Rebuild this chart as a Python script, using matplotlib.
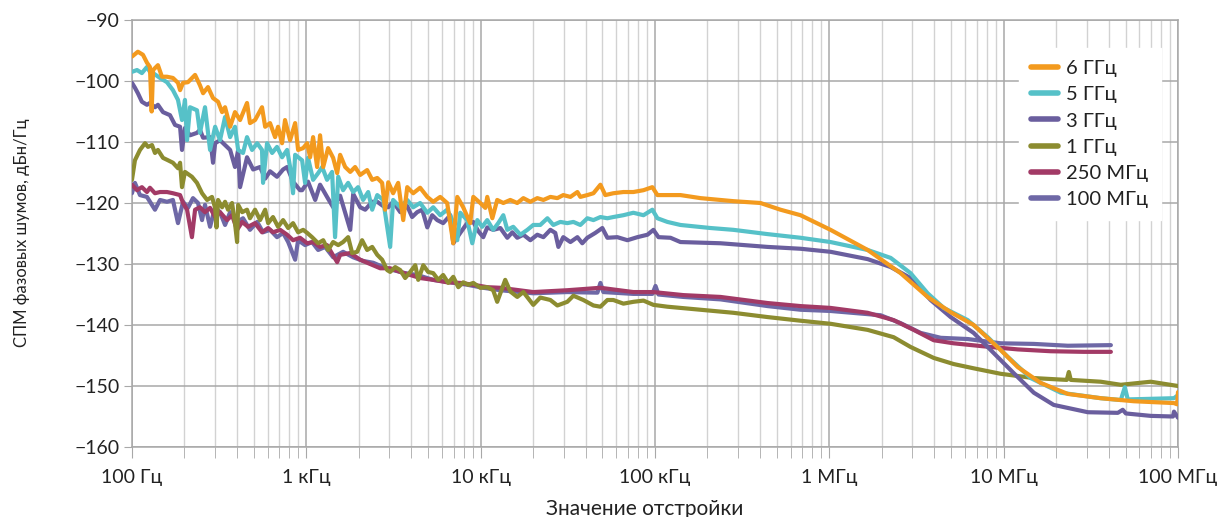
import numpy as np
import matplotlib.pyplot as plt
from matplotlib.ticker import LogLocator, FixedLocator, NullFormatter

plt.rcParams['font.family'] = ['Lato', 'DejaVu Sans']

# offset frequency as log10(Hz), phase noise in dBc/Hz
lgf_6g = [2.000, 2.034, 2.063, 2.086, 2.103, 2.113, 2.121, 2.149, 2.172, 2.201, 2.235, 2.264, 2.276, 2.293, 2.321,
          2.362, 2.390, 2.408, 2.436, 2.465, 2.494, 2.517, 2.534, 2.563, 2.591, 2.620, 2.660, 2.677, 2.706, 2.746,
          2.764, 2.792, 2.821, 2.838, 2.861, 2.878, 2.907, 2.936, 2.953, 2.982, 3.005, 3.022, 3.039, 3.062, 3.079,
          3.097, 3.125, 3.154, 3.177, 3.194, 3.223, 3.252, 3.280, 3.309, 3.349, 3.378, 3.407, 3.435, 3.452, 3.470,
          3.498, 3.527, 3.556, 3.579, 3.613, 3.653, 3.694, 3.728, 3.768, 3.808, 3.843, 3.866, 3.900, 3.940, 3.958,
          3.998, 4.027, 4.038, 4.067, 4.095, 4.130, 4.170, 4.210, 4.245, 4.285, 4.325, 4.360, 4.400, 4.440, 4.474,
          4.515, 4.555, 4.572, 4.612, 4.647, 4.687, 4.715, 4.761, 4.819, 4.876, 4.934, 4.985, 5.014, 5.071, 5.146,
          5.261, 5.450, 5.605, 5.720, 5.835, 6.007, 6.220, 6.409, 6.564, 6.696, 6.828, 6.983, 7.081, 7.213, 7.368,
          7.557, 7.747, 7.977, 7.995, 8.000]
p_6g = [-96.0, -95.2, -95.7, -97.0, -97.7, -105.0, -98.2, -97.4, -99.3, -99.3, -99.5, -100.3, -101.5, -100.3,
        -100.2, -99.0, -100.7, -102.0, -101.0, -102.8, -103.4, -105.1, -104.3, -107.5, -105.1, -106.4, -103.6,
        -106.9, -106.4, -104.3, -107.5, -106.9, -109.2, -107.5, -110.2, -106.4, -109.7, -106.9, -111.3, -111.0,
        -110.2, -112.5, -109.2, -114.1, -108.9, -114.1, -111.0, -112.6, -115.1, -112.1, -114.1, -114.9, -114.1,
        -115.4, -114.6, -116.2, -115.9, -116.7, -121.1, -116.6, -118.4, -116.7, -122.8, -117.4, -118.4, -117.5,
        -119.0, -119.8, -119.0, -120.0, -126.6, -119.0, -120.7, -123.3, -119.0, -120.0, -120.8, -119.0, -122.5,
        -119.5, -120.0, -119.5, -120.0, -119.2, -119.8, -119.2, -119.5, -119.0, -119.2, -118.7, -119.0, -118.2,
        -119.0, -118.7, -118.4, -117.0, -118.7, -118.4, -118.2, -118.2, -117.9, -117.4, -118.7, -118.7, -118.7,
        -119.2, -119.7, -120.0, -121.1, -122.0, -124.4, -127.7, -131.5, -135.4, -137.9, -140.0, -144.1, -146.9,
        -149.5, -151.3, -152.0, -152.5, -152.8, -153.0, -151.0]

lgf_5g = [2.000, 2.029, 2.057, 2.086, 2.103, 2.121, 2.161, 2.201, 2.235, 2.264, 2.287, 2.304, 2.316, 2.333, 2.373,
          2.390, 2.419, 2.448, 2.477, 2.505, 2.534, 2.563, 2.591, 2.609, 2.637, 2.660, 2.689, 2.718, 2.746, 2.752,
          2.775, 2.804, 2.832, 2.861, 2.890, 2.907, 2.924, 2.936, 2.976, 2.993, 3.010, 3.039, 3.068, 3.091, 3.119,
          3.148, 3.165, 3.183, 3.211, 3.240, 3.269, 3.297, 3.326, 3.355, 3.378, 3.407, 3.441, 3.481, 3.498, 3.539,
          3.579, 3.613, 3.653, 3.694, 3.728, 3.768, 3.808, 3.837, 3.866, 3.883, 3.923, 3.952, 3.981, 4.009, 4.038,
          4.072, 4.101, 4.130, 4.153, 4.187, 4.228, 4.268, 4.302, 4.342, 4.383, 4.417, 4.457, 4.497, 4.532, 4.572,
          4.612, 4.647, 4.687, 4.727, 4.761, 4.819, 4.876, 4.934, 4.985, 5.014, 5.071, 5.146, 5.318, 5.450, 5.646,
          5.835, 6.007, 6.220, 6.352, 6.466, 6.564, 6.656, 6.794, 6.909, 7.023, 7.155, 7.328, 7.557, 7.672, 7.695,
          7.712, 7.977, 8.000]
p_5g = [-98.5, -98.2, -98.7, -97.7, -98.5, -98.7, -99.5, -100.2, -101.5, -103.1, -106.4, -103.1, -109.7, -104.3,
        -104.8, -108.5, -104.3, -111.3, -107.5, -109.7, -105.9, -109.2, -107.5, -111.3, -111.8, -109.2, -111.3,
        -110.2, -111.3, -116.7, -110.2, -111.8, -110.8, -112.5, -111.3, -114.1, -118.4, -112.1, -113.0, -116.7,
        -112.6, -116.2, -115.1, -114.1, -116.2, -114.9, -125.6, -115.7, -117.9, -116.7, -118.2, -117.4, -119.5,
        -118.2, -121.1, -118.7, -119.5, -127.2, -119.5, -120.7, -119.5, -120.7, -120.0, -121.6, -120.7, -122.0,
        -121.1, -122.8, -126.1, -121.6, -122.8, -126.6, -122.8, -123.9, -122.8, -124.4, -123.3, -122.0, -124.4,
        -123.9, -125.2, -124.4, -123.6, -123.6, -122.5, -123.6, -123.1, -123.3, -123.1, -123.6, -122.5, -122.8,
        -122.3, -122.5, -122.3, -122.0, -121.6, -122.0, -121.1, -122.5, -123.1, -123.6, -124.1, -124.4, -125.1,
        -125.7, -126.4, -127.7, -129.0, -131.5, -134.8, -137.2, -139.2, -142.0, -145.2, -148.7, -151.1, -152.0,
        -152.3, -150.2, -152.2, -152.0, -151.5]

lgf_3g = [2.000, 2.017, 2.034, 2.057, 2.086, 2.103, 2.132, 2.149, 2.178, 2.218, 2.247, 2.276, 2.287, 2.304, 2.333,
          2.373, 2.390, 2.408, 2.448, 2.465, 2.477, 2.505, 2.545, 2.563, 2.591, 2.609, 2.620, 2.660, 2.695, 2.735,
          2.764, 2.792, 2.832, 2.867, 2.890, 2.924, 2.964, 2.976, 3.010, 3.051, 3.079, 3.119, 3.154, 3.194, 3.252,
          3.269, 3.309, 3.338, 3.378, 3.407, 3.441, 3.470, 3.498, 3.539, 3.579, 3.607, 3.636, 3.665, 3.694, 3.722,
          3.751, 3.785, 3.826, 3.843, 3.883, 3.923, 3.958, 3.986, 4.015, 4.038, 4.072, 4.113, 4.153, 4.182, 4.210,
          4.245, 4.285, 4.325, 4.360, 4.400, 4.428, 4.446, 4.474, 4.515, 4.555, 4.583, 4.612, 4.658, 4.698, 4.727,
          4.784, 4.842, 4.899, 4.957, 4.991, 5.020, 5.089, 5.146, 5.376, 5.646, 5.835, 6.007, 6.220, 6.352, 6.466,
          6.581, 6.696, 6.828, 6.943, 7.058, 7.173, 7.287, 7.483, 7.655, 7.683, 7.701, 7.844, 7.971, 7.977, 8.000]
p_3g = [-100.3, -101.1, -102.0, -103.4, -103.9, -103.6, -104.3, -103.9, -105.1, -105.6, -107.2, -107.5, -111.3,
        -107.7, -108.9, -108.5, -108.0, -109.3, -109.2, -113.4, -110.2, -109.7, -110.8, -111.3, -114.1, -111.3,
        -117.4, -112.5, -114.5, -114.1, -116.0, -114.8, -115.7, -114.5, -114.1, -116.5, -117.9, -117.9, -116.5,
        -119.5, -117.0, -119.0, -120.7, -118.8, -124.4, -118.5, -120.7, -121.1, -119.8, -119.8, -120.5, -120.7,
        -119.8, -121.5, -120.5, -122.3, -121.5, -121.1, -124.0, -122.0, -122.8, -123.3, -122.0, -126.6, -124.9,
        -123.3, -123.1, -124.6, -125.6, -124.0, -124.4, -124.1, -125.7, -124.8, -125.7, -125.2, -126.1, -125.2,
        -125.6, -124.4, -124.9, -127.2, -125.6, -126.4, -125.6, -126.6, -125.7, -124.9, -124.1, -125.7, -125.6,
        -126.1, -125.6, -125.2, -124.4, -125.6, -125.7, -126.4, -126.6, -127.2, -127.5, -128.0, -129.2, -130.5,
        -132.3, -135.9, -138.7, -141.3, -144.6, -147.9, -151.1, -153.1, -154.3, -154.4, -153.9, -154.5, -154.9,
        -155.0, -154.2, -155.2]

lgf_1g = [2.000, 2.017, 2.046, 2.075, 2.092, 2.115, 2.132, 2.149, 2.178, 2.207, 2.235, 2.264, 2.276, 2.287, 2.304,
          2.344, 2.373, 2.402, 2.431, 2.459, 2.477, 2.485, 2.494, 2.517, 2.534, 2.551, 2.574, 2.591, 2.603, 2.609,
          2.632, 2.660, 2.677, 2.706, 2.735, 2.764, 2.781, 2.809, 2.838, 2.867, 2.896, 2.924, 2.953, 2.982, 3.005,
          3.033, 3.068, 3.097, 3.125, 3.154, 3.183, 3.211, 3.240, 3.263, 3.292, 3.320, 3.349, 3.378, 3.407, 3.435,
          3.464, 3.481, 3.510, 3.539, 3.567, 3.596, 3.625, 3.642, 3.671, 3.699, 3.728, 3.757, 3.785, 3.814, 3.843,
          3.872, 3.900, 3.929, 3.958, 3.998, 4.038, 4.072, 4.095, 4.113, 4.141, 4.170, 4.210, 4.245, 4.302, 4.342,
          4.400, 4.440, 4.497, 4.532, 4.589, 4.647, 4.687, 4.727, 4.761, 4.819, 4.876, 4.934, 4.991, 5.071, 5.261,
          5.450, 5.646, 5.835, 6.007, 6.220, 6.369, 6.466, 6.599, 6.713, 6.828, 6.983, 7.173, 7.362, 7.374, 7.385,
          7.557, 7.672, 7.844, 8.000]
p_1g = [-116.2, -113.0, -111.3, -110.2, -110.8, -110.5, -111.8, -111.3, -112.6, -113.0, -113.4, -114.3, -113.4,
        -117.4, -114.9, -115.7, -116.7, -118.4, -119.5, -119.0, -120.8, -124.0, -119.5, -120.7, -119.8, -121.1,
        -120.0, -123.3, -126.4, -120.3, -121.5, -121.1, -122.5, -121.1, -122.8, -121.1, -123.3, -122.3, -123.9,
        -122.8, -124.1, -123.3, -124.8, -124.4, -124.9, -125.6, -126.6, -126.1, -127.7, -126.4, -126.9, -126.4,
        -125.6, -128.2, -128.0, -126.1, -127.7, -127.2, -128.5, -129.3, -131.0, -131.3, -130.5, -131.0, -132.3,
        -131.3, -130.2, -132.6, -130.2, -131.3, -131.5, -132.6, -131.8, -133.1, -132.1, -133.8, -133.0, -133.4,
        -133.1, -133.9, -133.8, -134.3, -136.2, -134.8, -132.6, -134.5, -135.4, -134.6, -136.7, -135.5, -135.9,
        -136.8, -136.2, -135.2, -135.9, -136.8, -137.0, -135.9, -135.9, -136.5, -136.2, -136.0, -136.7, -137.0,
        -137.5, -138.0, -138.7, -139.3, -139.8, -140.8, -142.0, -143.6, -145.4, -146.4, -147.1, -148.0, -148.7,
        -149.0, -147.7, -149.0, -149.3, -149.8, -149.3, -150.0]

lgf_250m = [2.000, 2.029, 2.057, 2.086, 2.103, 2.132, 2.161, 2.201, 2.235, 2.276, 2.293, 2.316, 2.344, 2.362,
            2.390, 2.419, 2.448, 2.477, 2.505, 2.545, 2.574, 2.603, 2.632, 2.666, 2.706, 2.746, 2.781, 2.809, 2.850,
            2.890, 2.924, 2.964, 3.005, 3.039, 3.079, 3.119, 3.177, 3.194, 3.252, 3.309, 3.366, 3.424, 3.481, 3.539,
            3.596, 3.653, 3.728, 3.808, 3.883, 3.958, 4.038, 4.113, 4.302, 4.497, 4.687, 4.876, 4.991, 5.163, 5.376,
            5.646, 5.835, 6.007, 6.220, 6.369, 6.484, 6.599, 6.713, 6.886, 7.081, 7.270, 7.460, 7.615]
p_250m = [-117.0, -117.9, -117.4, -118.2, -117.5, -118.4, -118.2, -118.2, -118.4, -118.7, -120.0, -121.1, -125.6,
          -121.1, -120.7, -121.5, -120.8, -122.3, -121.5, -122.8, -122.0, -124.4, -123.1, -123.9, -123.3, -124.8,
          -124.1, -124.8, -124.4, -125.2, -126.1, -125.7, -126.6, -126.4, -127.2, -126.9, -129.7, -128.5, -128.2,
          -129.3, -130.0, -130.7, -130.7, -131.3, -131.8, -132.3, -132.6, -133.0, -133.1, -133.4, -133.8, -133.9,
          -134.6, -134.3, -133.9, -134.6, -134.6, -135.1, -135.4, -136.4, -136.9, -137.2, -138.0, -139.2, -140.8,
          -142.5, -143.0, -143.5, -144.0, -144.3, -144.4, -144.4]

lgf_100m = [2.000, 2.017, 2.046, 2.086, 2.132, 2.161, 2.201, 2.235, 2.264, 2.293, 2.321, 2.350, 2.379, 2.402,
            2.419, 2.448, 2.477, 2.505, 2.534, 2.563, 2.603, 2.637, 2.677, 2.718, 2.752, 2.792, 2.832, 2.867, 2.896,
            2.936, 2.953, 2.993, 3.033, 3.068, 3.108, 3.154, 3.211, 3.269, 3.326, 3.384, 3.441, 3.498, 3.567, 3.636,
            3.728, 3.826, 3.923, 4.015, 4.113, 4.302, 4.497, 4.670, 4.687, 4.704, 4.876, 4.985, 5.003, 5.020, 5.163,
            5.376, 5.646, 5.835, 6.007, 6.294, 6.409, 6.524, 6.639, 6.794, 6.983, 7.173, 7.368, 7.615]
p_100m = [-118.4, -116.7, -118.7, -119.0, -121.1, -119.5, -119.8, -119.5, -123.3, -119.8, -120.8, -119.2, -120.0,
          -122.8, -120.3, -123.9, -120.7, -121.5, -123.6, -121.5, -123.1, -122.5, -124.4, -123.1, -124.8, -124.4,
          -125.6, -124.9, -126.4, -129.3, -126.1, -126.9, -126.4, -127.7, -127.2, -128.9, -128.0, -128.9, -129.5,
          -129.8, -130.5, -131.0, -131.5, -131.8, -132.6, -133.0, -133.4, -133.9, -134.3, -134.8, -134.6, -134.7,
          -133.1, -134.6, -134.9, -134.9, -133.6, -135.0, -135.4, -135.8, -136.9, -137.5, -137.7, -138.4, -139.7,
          -141.3, -142.1, -142.3, -143.0, -143.1, -143.4, -143.3]

labels = ['6 ГГц', '5 ГГц', '3 ГГц', '1 ГГц', '250 МГц', '100 МГц']
colors = ['#F39A1E', '#56C1C8', '#6A5E9E', '#8C8C30', '#A23A66', '#6E68A6']
series = [(lgf_6g, p_6g), (lgf_5g, p_5g), (lgf_3g, p_3g), (lgf_1g, p_1g), (lgf_250m, p_250m), (lgf_100m, p_100m)]

xticks = [1e2, 1e3, 1e4, 1e5, 1e6, 1e7, 1e8]
xticklabels = ['100 Гц', '1 кГц', '10 кГц', '100 кГц', '1 МГц', '10 МГц', '100 МГц']
yticks = [-160, -150, -140, -130, -120, -110, -100, -90]

fig = plt.figure(figsize=(12.23, 5.17), dpi=100)
ax = fig.add_axes([0.1079, 0.1354, 0.8553, 0.8259])

handles = [None] * 6
# lower carriers first so the 6 GHz trace ends up on top
for i in reversed(range(6)):
    lg, p = series[i]
    f = 10 ** np.array(lg)
    ln, = ax.plot(f, p, color=colors[i], lw=3.0, solid_joinstyle='round', solid_capstyle='round',
                  label=labels[i], zorder=3 + (5 - i))
    handles[i] = ln

ax.set_xscale('log')
ax.set_xlim(100, 1e8)
ax.set_ylim(-160, -90)
ax.xaxis.set_major_locator(FixedLocator(xticks))
ax.set_xticklabels(xticklabels)
ax.xaxis.set_minor_locator(LogLocator(base=10, subs=np.arange(2, 10), numticks=20))
ax.xaxis.set_minor_formatter(NullFormatter())
ax.set_yticks(yticks)
ax.set_yticklabels([str(v).replace('-', '\u2212') for v in yticks])

ax.grid(which='major', color='#A8A8A8', lw=1.1)
ax.grid(which='minor', axis='x', color='#D2D2D2', lw=1.0)
ax.set_axisbelow(True)
for s in ax.spines.values():
    s.set_color('#A8A8A8')
    s.set_linewidth(1.1)

ax.tick_params(axis='both', which='both', color='#A8A8A8', labelsize=14, labelcolor='#222222')
ax.tick_params(axis='x', which='major', length=8, pad=8)
ax.tick_params(axis='x', which='minor', length=8)
ax.tick_params(axis='y', length=6, pad=3)

leg = ax.legend(handles=handles, loc='upper right', bbox_to_anchor=(0.993, 0.958), frameon=True,
                fontsize=14.5, handlelength=1.35, handletextpad=0.4, labelspacing=0.45, borderpad=0.6,
                fancybox=False, edgecolor='white', framealpha=1.0)
for t in leg.get_texts():
    t.set_color('#222222')
for h in leg.legend_handles:
    h.set_linewidth(4)

fig.text(0.018, 0.549, 'СПМ фазовых шумов, дБн/Гц', rotation=90, ha='center', va='center',
         fontsize=12, color='#222222')
fig.text(0.527, 0.035, 'Значение отстройки', ha='center', va='top', fontsize=15, color='#222222')

fig.savefig('out.png', dpi=100)
